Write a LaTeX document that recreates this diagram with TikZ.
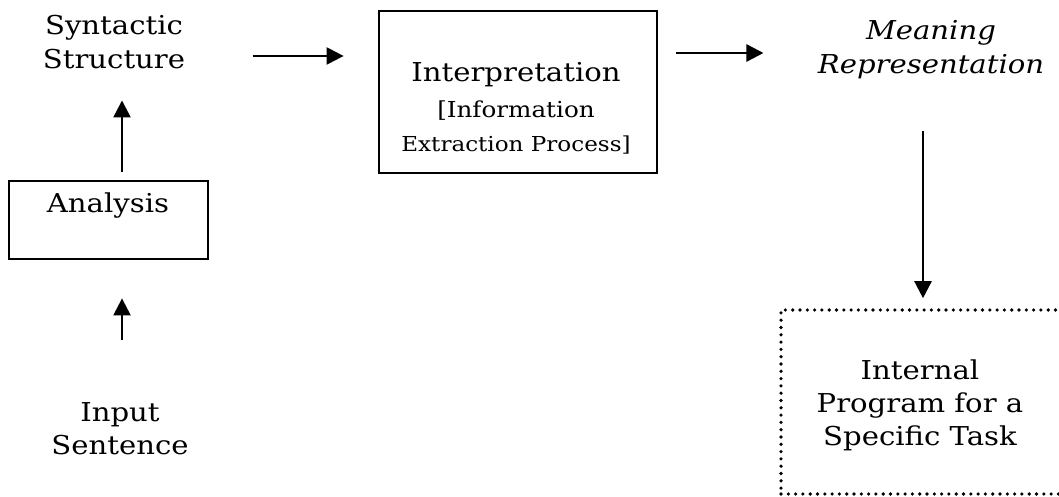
\documentclass[tikz,border=0pt]{standalone}
\usepackage{fontspec}
\setmainfont{DejaVu Serif}[FakeStretch=1.12]
\usetikzlibrary{arrows.meta}
\begin{document}
\begin{tikzpicture}[x=0.5pt,y=-0.5pt,
  txt/.style={align=center,inner sep=0pt,font=\fontsize{13}{17}\selectfont},
  frame/.style={draw,line width=1.4pt,inner sep=0pt},
  arr/.style={-{Triangle[length=8.5pt,width=8.5pt]},line width=1.2pt},
  dotted frame/.style={draw,line width=1.8pt,line cap=round,dash pattern=on 0pt off 3.65pt,inner sep=0pt}]
\useasboundingbox (0,0) rectangle (1059,497);
\clip (0,0) rectangle (1059,497);

% boxes
\node[frame,minimum width=139pt,minimum height=81pt] (interp) at (518,92) {};
\node[frame,minimum width=99.5pt,minimum height=39pt] (analysis) at (108.5,220) {};
\node[dotted frame,minimum width=159.5pt,minimum height=92pt] (task) at (940.5,402) {};

% texts
\node[txt,anchor=north] (synt) at (114,15) {Syntactic\\Structure};
\node[txt,anchor=north,font=\fontsize{13}{17}\selectfont\itshape] (meaning) at (931,20) {Meaning\\Representation};
\node[txt,anchor=north] (interptext) at (516,62)
  {Interpretation\\[1pt]{\fontsize{11}{16}\selectfont [Information}\\\fontsize{10.3}{16}\selectfont Extraction Process]};
\node[txt,anchor=north] (analysistext) at (108,192) {Analysis};
\node[txt,anchor=north,font=\fontsize{13}{16.5}\selectfont] (input) at (120,402) {Input\\Sentence};
\node[txt,anchor=north,font=\fontsize{13}{16.5}\selectfont] (tasktext) at (920,359) {Internal\\Program for a\\Specific Task};

% guide rows and columns for the connectors
\coordinate (rowA) at (0,56);
\coordinate (rowB) at (0,53);
\coordinate (colL) at (122,0);
\coordinate (colR) at (923,0);

% connectors
\draw[arr,shorten <=33.5pt,shorten >=17pt] (synt.east |- rowA) -- (interp.west |- rowA);
\draw[arr,shorten <=9pt,shorten >=27pt] (interp.east |- rowB) -- (meaning.west |- rowB);
\draw[arr,shorten <=4pt,shorten >=15.5pt] (analysis.north -| colL) -- (synt.south -| colL);
\draw[arr,shorten <=31pt,shorten >=19pt] (input.north -| colL) -- (analysis.south -| colL);
\draw[arr,shorten <=26pt,shorten >=5pt] (meaning.south -| colR) -- (task.north -| colR);
\end{tikzpicture}
\end{document}
